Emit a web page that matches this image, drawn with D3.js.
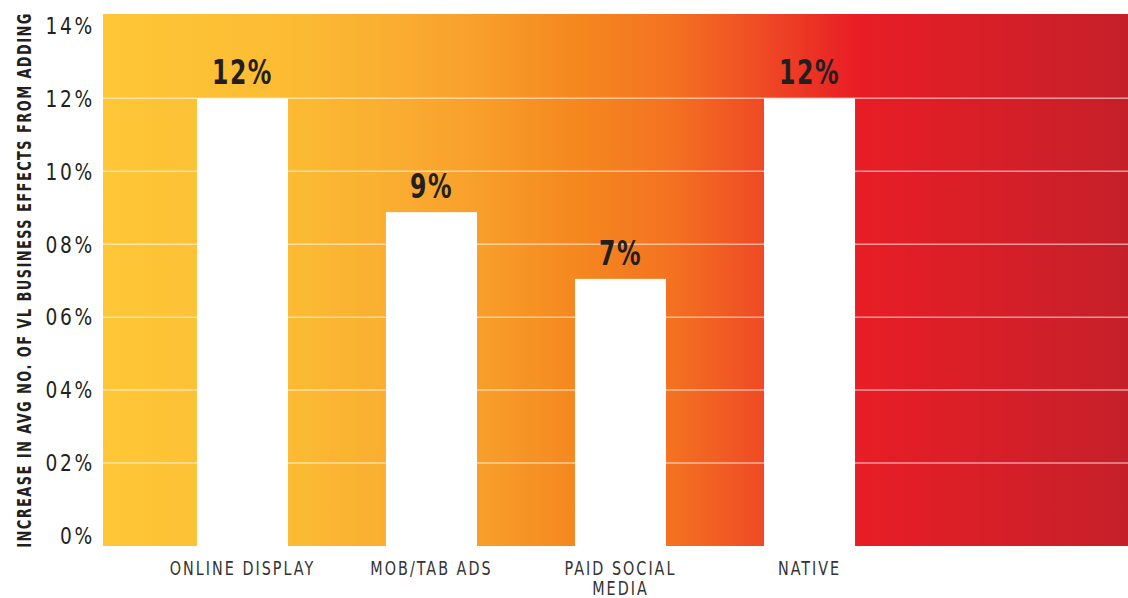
<!DOCTYPE html>
<html>
<head>
<meta charset="utf-8">
<script src="https://cdn.jsdelivr.net/npm/d3@7"></script>
<style>
  html, body { margin: 0; padding: 0; background: #fff; }
  svg { display: block; }
</style>
</head>
<body>
<svg id="chart" width="1128" height="598"></svg>
<script>
const categories = ["ONLINE DISPLAY", "MOB/TAB ADS", "PAID SOCIAL MEDIA", "NATIVE"];
const categoryLines = [["ONLINE DISPLAY"], ["MOB/TAB ADS"], ["PAID SOCIAL", "MEDIA"], ["NATIVE"]];
const values = [12, 8.88, 7.05, 12];
const valueLabels = ["12%", "9%", "7%", "12%"];
const tickValues = [0, 2, 4, 6, 8, 10, 12, 14];
const tickLabels = ["0%", "02%", "04%", "06%", "08%", "10%", "12%", "14%"];
const gridValues = [2, 4, 6, 8, 10, 12];
const yTitle = "INCREASE IN AVG NO. OF VL BUSINESS EFFECTS FROM ADDING";

const svg = d3.select("#chart");
const plot = { left: 103, right: 1128, top: 14, bottom: 546 };
const NARROW = "'Liberation Sans Narrow', 'DejaVu Sans Condensed', 'Liberation Sans', sans-serif";

const y = d3.scaleLinear().domain([0, 14]).range([536, 25.4]);
const x = d3.scaleBand().domain(categories).range([148, 904])
  .paddingInner(0.5185).paddingOuter(0.259);

// gradient background
const defs = svg.append("defs");
const grad = defs.append("linearGradient").attr("id", "bg")
  .attr("x1", "0%").attr("x2", "100%").attr("y1", "0%").attr("y2", "0%");
[
  [0, "#FEC737"], [0.18, "#FCBB33"], [0.28, "#FAAE31"], [0.365, "#F89F2B"],
  [0.46, "#F5881F"], [0.548, "#F47421"], [0.64, "#EF4C24"], [0.735, "#E81D25"],
  [1, "#C5202A"]
].forEach(([o, c]) => grad.append("stop").attr("offset", o).attr("stop-color", c));

svg.append("rect")
  .attr("x", plot.left).attr("y", plot.top)
  .attr("width", plot.right - plot.left).attr("height", plot.bottom - plot.top)
  .attr("fill", "url(#bg)");

// gridlines
svg.append("g").selectAll("line").data(gridValues).join("line")
  .attr("x1", plot.left).attr("x2", plot.right)
  .attr("y1", d => y(d)).attr("y2", d => y(d))
  .attr("stroke", "#fff").attr("stroke-opacity", 0.55).attr("stroke-width", 1.5);

// bars
svg.append("g").selectAll("rect").data(categories).join("rect")
  .attr("x", d => x(d)).attr("width", x.bandwidth())
  .attr("y", (d, i) => y(values[i]))
  .attr("height", (d, i) => plot.bottom - y(values[i]))
  .attr("fill", "#fff");

// value labels (condensed via horizontal scale)
svg.append("g").selectAll("g").data(categories).join("g")
  .attr("transform", (d, i) =>
    `translate(${x(d) + x.bandwidth() / 2},${y(values[i]) - 14}) scale(0.77,1)`)
  .append("text")
  .attr("text-anchor", "middle")
  .attr("font-family", NARROW).attr("font-weight", "bold")
  .attr("font-size", 34).attr("letter-spacing", 2)
  .attr("fill", "#231F20")
  .text((d, i) => valueLabels[i]);

// y tick labels
svg.append("g").selectAll("g").data(tickValues).join("g")
  .attr("transform", d => `translate(95,${y(d)}) scale(0.9,1)`)
  .append("text")
  .attr("dy", "0.36em")
  .attr("text-anchor", "end")
  .attr("font-family", NARROW).attr("font-size", 23)
  .attr("letter-spacing", 3)
  .attr("fill", "#231F20")
  .text((d, i) => tickLabels[i]);

// category labels (one text per line)
const catG = svg.append("g").selectAll("g").data(categories).join("g")
  .attr("transform", d => `translate(${x(d) + x.bandwidth() / 2},0) scale(0.84,1)`);
catG.each(function (d, i) {
  const g = d3.select(this);
  categoryLines[i].forEach((line, j) => {
    g.append("text")
      .attr("x", 0).attr("y", 575 + j * 20)
      .attr("text-anchor", "middle")
      .attr("font-family", NARROW).attr("font-size", 19)
      .attr("letter-spacing", 2.4)
      .attr("fill", "#333")
      .text(line);
  });
});

// y axis title, condensed to fit the plot height
const titleG = svg.append("g");
const title = titleG.append("text")
  .attr("text-anchor", "middle")
  .attr("font-family", NARROW).attr("font-weight", "bold")
  .attr("font-size", 20).attr("letter-spacing", 2)
  .attr("fill", "#231F20")
  .text(yTitle);
const natural = title.node().getComputedTextLength();
const sx = 536 / natural;
titleG.attr("transform", `translate(31,280) rotate(-90) scale(${sx},1)`);
</script>
</body>
</html>
